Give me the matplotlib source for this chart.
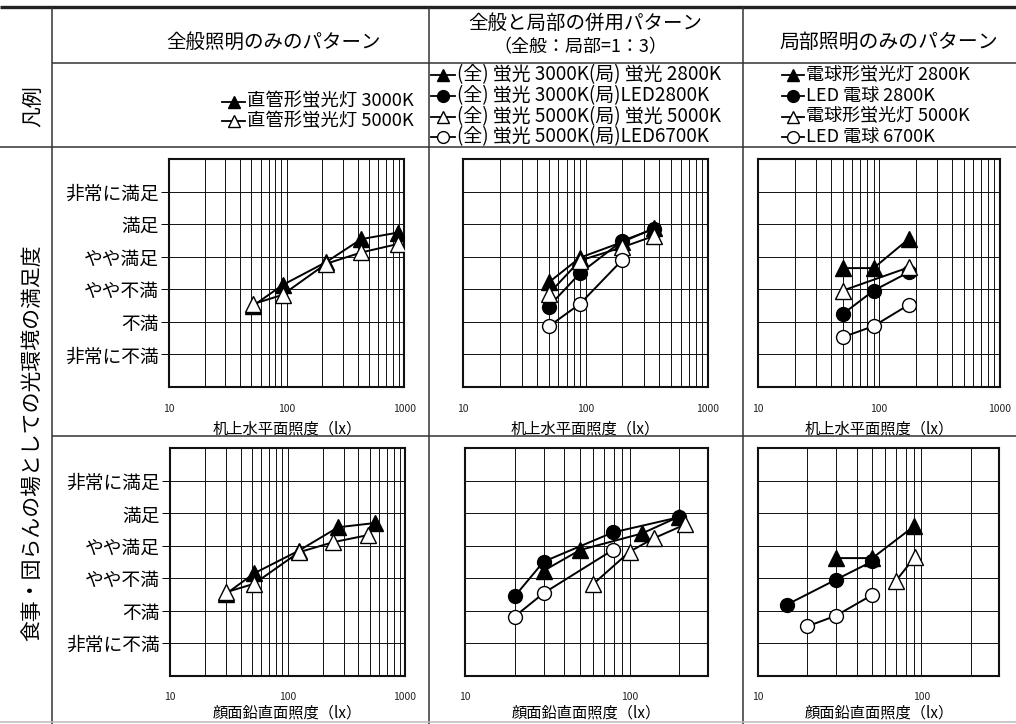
import matplotlib
matplotlib.use('Agg')
import matplotlib.pyplot as plt
from matplotlib.ticker import LogLocator, NullFormatter

plt.rcParams['font.family'] = ['Noto Sans CJK JP', 'DejaVu Sans']

W, H = 1016, 724

# --- satisfaction scale (1 = 非常に不満 ... 6 = 非常に満足) ---
LEVEL_LABELS = ['非常に不満', '不満', 'やや不満', 'やや満足', '満足', '非常に満足']
LEVEL_VALUES = [1, 2, 3, 4, 5, 6]

# --- top row: desk horizontal illuminance (lx) ---
gen_desk_x_3000 = [52, 92, 215, 430, 880]
gen_desk_y_3000 = [2.50, 3.13, 3.83, 4.54, 4.74]
gen_desk_x_5000 = [52, 92, 215, 430, 880]
gen_desk_y_5000 = [2.55, 2.83, 3.78, 4.13, 4.39]

mix_desk_x = [50, 90, 200, 365]
mix_desk_y_fl_fl2800 = [3.21, 3.97, 4.45, 4.88]
mix_desk_y_fl_led2800 = [2.47, 3.49, 4.49, 4.85]
mix_desk_y_fl_fl5000 = [2.86, 3.88, 4.29, 4.64]
mix_desk_x_led6700 = [50, 90, 200]
mix_desk_y_fl_led6700 = [1.86, 2.55, 3.90]

loc_desk_x = [50, 90, 175]
loc_desk_y_cfl2800 = [3.65, 3.65, 4.54]
loc_desk_y_led2800 = [2.24, 2.96, 3.52]
loc_desk_x_cfl5000 = [50, 175]
loc_desk_y_cfl5000 = [2.96, 3.67]
loc_desk_y_led6700 = [1.53, 1.87, 2.52]

# --- bottom row: face vertical illuminance (lx) ---
gen_face_x_3000 = [30, 52, 125, 270, 555]
gen_face_y_3000 = [2.52, 3.15, 3.85, 4.57, 4.70]
gen_face_x_5000 = [30, 52, 125, 245, 487]
gen_face_y_5000 = [2.57, 2.83, 3.80, 4.11, 4.33]

mix_face_x_fl_fl2800 = [30, 50, 119, 200]
mix_face_y_fl_fl2800 = [3.23, 3.87, 4.38, 4.90]
mix_face_x_fl_led2800 = [20, 30, 79, 200]
mix_face_y_fl_led2800 = [2.44, 3.51, 4.41, 4.88]
mix_face_x_fl_fl5000 = [60, 100, 140, 218]
mix_face_y_fl_fl5000 = [2.82, 3.82, 4.23, 4.66]
mix_face_x_fl_led6700 = [20, 30, 79]
mix_face_y_fl_led6700 = [1.82, 2.54, 3.87]

loc_face_x_cfl2800 = [30, 50, 90]
loc_face_y_cfl2800 = [3.62, 3.62, 4.60]
loc_face_x_led2800 = [15, 30, 50]
loc_face_y_led2800 = [2.19, 2.96, 3.52]
loc_face_x_cfl5000 = [70, 91]
loc_face_y_cfl5000 = [2.93, 3.65]
loc_face_x_led6700 = [20, 30, 50]
loc_face_y_led6700 = [1.52, 1.85, 2.49]

# --- text ---
HEADERS = ['全般照明のみのパターン', '全般と局部の併用パターン', '局部照明のみのパターン']
HEADER_SUB = '（全般：局部=1：3）'
LEGEND_GEN = ['直管形蛍光灯 3000K', '直管形蛍光灯 5000K']
LEGEND_MIX = ['(全) 蛍光 3000K(局) 蛍光 2800K', '(全) 蛍光 3000K(局)LED2800K',
              '(全) 蛍光 5000K(局) 蛍光 5000K', '(全) 蛍光 5000K(局)LED6700K']
LEGEND_LOC = ['電球形蛍光灯 2800K', 'LED 電球 2800K', '電球形蛍光灯 5000K', 'LED 電球 6700K']
XLABEL_DESK = '机上水平面照度（lx）'
XLABEL_FACE = '顔面鉛直面照度（lx）'
YLABEL = '食事・団らんの場としての光環境の満足度'

STYLE = {
    'tri_f': dict(marker='^', mfc='black', ms=11),
    'cir_f': dict(marker='o', mfc='black', ms=10),
    'tri_o': dict(marker='^', mfc='white', ms=11),
    'cir_o': dict(marker='o', mfc='white', ms=10),
}
LEG_STYLE = {
    'tri_f': dict(marker='^', mfc='black', ms=9),
    'cir_f': dict(marker='o', mfc='black', ms=8.5),
    'tri_o': dict(marker='^', mfc='white', ms=9),
    'cir_o': dict(marker='o', mfc='white', ms=8.5),
}


def px_rect(x0, y0, x1, y1):
    return [x0 / W, 1 - y1 / H, (x1 - x0) / W, (y1 - y0) / H]


fig = plt.figure(figsize=(W / 100, H / 100), dpi=100)
bg = fig.add_axes([0, 0, 1, 1])
bg.set_xlim(0, W)
bg.set_ylim(H, 0)
bg.axis('off')

# --- table rules ---
rule = dict(color='#333333', lw=1.1, solid_capstyle='butt')
bg.plot([0, W], [6.7, 6.7], color='#222222', lw=2.4, solid_capstyle='butt')
for xv in (52, 429, 743):
    bg.plot([xv, xv], [7, 724], **rule)
bg.plot([52, W], [63, 63], **rule)
bg.plot([0, W], [147, 147], **rule)
bg.plot([52, W], [435.5, 435.5], **rule)
bg.plot([0, W], [722, 722], color='#bbbbbb', lw=1.1)

# --- headers ---
bg.text(274, 42, HEADERS[0], fontsize=14, ha='center', va='center')
bg.text(585, 23, HEADERS[1], fontsize=14, ha='center', va='center')
bg.text(580, 47, HEADER_SUB, fontsize=13, ha='center', va='center')
bg.text(889, 42, HEADERS[2], fontsize=14.3, ha='center', va='center')
bg.text(33, 106, '凡例', fontsize=15, rotation=90, ha='center', va='center')
bg.text(32, 443, YLABEL, fontsize=15, rotation=90, ha='center', va='center')


# --- legends ---
def legend_column(x0, x1, ys, keys, labels, fs):
    for y, key, lab in zip(ys, keys, labels):
        bg.plot([x0, (x0 + x1) / 2, x1], [y, y, y], color='black', lw=1.3,
                markevery=[1], mec='black', mew=1.0, **LEG_STYLE[key])
        bg.text(x1 + 2, y, lab, fontsize=fs, ha='left', va='center')


legend_column(222, 245, [101.5, 121], ['tri_f', 'tri_o'], LEGEND_GEN, 13.2)
legend_column(431, 455, [75, 95.5, 116.5, 137], ['tri_f', 'cir_f', 'tri_o', 'cir_o'], LEGEND_MIX, 13.6)
legend_column(782, 804, [75, 95.5, 116.5, 137], ['tri_f', 'cir_f', 'tri_o', 'cir_o'], LEGEND_LOC, 13)

# --- panels ---
panels = [
    ((169.3, 159, 404.3, 387), 1000, True, XLABEL_DESK, 5,
     [('tri_f', gen_desk_x_3000, gen_desk_y_3000), ('tri_o', gen_desk_x_5000, gen_desk_y_5000)]),
    ((463.3, 159, 707.7, 387), 1000, False, XLABEL_DESK, 5,
     [('tri_f', mix_desk_x, mix_desk_y_fl_fl2800), ('cir_f', mix_desk_x, mix_desk_y_fl_led2800),
      ('tri_o', mix_desk_x, mix_desk_y_fl_fl5000), ('cir_o', mix_desk_x_led6700, mix_desk_y_fl_led6700)]),
    ((758.3, 159, 1000, 387), 1000, False, XLABEL_DESK, 5,
     [('tri_f', loc_desk_x, loc_desk_y_cfl2800), ('cir_f', loc_desk_x, loc_desk_y_led2800),
      ('tri_o', loc_desk_x_cfl5000, loc_desk_y_cfl5000), ('cir_o', loc_desk_x, loc_desk_y_led6700)]),
    ((170, 448.3, 405, 675.7), 1000, True, XLABEL_FACE, 1.2,
     [('tri_f', gen_face_x_3000, gen_face_y_3000), ('tri_o', gen_face_x_5000, gen_face_y_5000)]),
    ((465, 448.3, 708.3, 675.7), 300, False, XLABEL_FACE, 1.2,
     [('tri_f', mix_face_x_fl_fl2800, mix_face_y_fl_fl2800), ('cir_f', mix_face_x_fl_led2800, mix_face_y_fl_led2800),
      ('tri_o', mix_face_x_fl_fl5000, mix_face_y_fl_fl5000), ('cir_o', mix_face_x_fl_led6700, mix_face_y_fl_led6700)]),
    ((758.3, 448.3, 999.3, 675.7), 300, False, XLABEL_FACE, 1.2,
     [('tri_f', loc_face_x_cfl2800, loc_face_y_cfl2800), ('cir_f', loc_face_x_led2800, loc_face_y_led2800),
      ('tri_o', loc_face_x_cfl5000, loc_face_y_cfl5000), ('cir_o', loc_face_x_led6700, loc_face_y_led6700)]),
]

for rect, xmax, show_y, xlabel, lpad, series in panels:
    ax = fig.add_axes(px_rect(*rect))
    ax.set_xscale('log')
    ax.set_xlim(10, xmax)
    ax.set_ylim(0, 7)
    ax.xaxis.set_minor_locator(LogLocator(base=10, subs=range(2, 10)))
    ax.xaxis.set_minor_formatter(NullFormatter())
    major = [v for v in (10, 100, 1000) if v <= xmax]
    ax.set_xticks(major, [str(v) for v in major])
    ax.grid(True, which='both', axis='x', color='#111111', lw=0.7)
    ax.set_yticks(LEVEL_VALUES, LEVEL_LABELS if show_y else [])
    ax.grid(True, which='major', axis='y', color='#111111', lw=0.7)
    ax.tick_params(axis='x', which='both', length=0, pad=12, labelsize=7.5, labelcolor='#222222')
    if show_y:
        ax.tick_params(axis='y', length=6, width=0.7, pad=1.5, labelsize=13.5)
    else:
        ax.tick_params(axis='y', length=0)
    for sp in ax.spines.values():
        sp.set_linewidth(1.5)
        sp.set_color('#111111')
    ax.set_xlabel(xlabel, fontsize=11, labelpad=lpad)
    for key, xs, ys in series:
        ax.plot(xs, ys, color='black', lw=1.4, mec='black', mew=1.0, zorder=3, **STYLE[key])

fig.savefig('out.png', dpi=100)
